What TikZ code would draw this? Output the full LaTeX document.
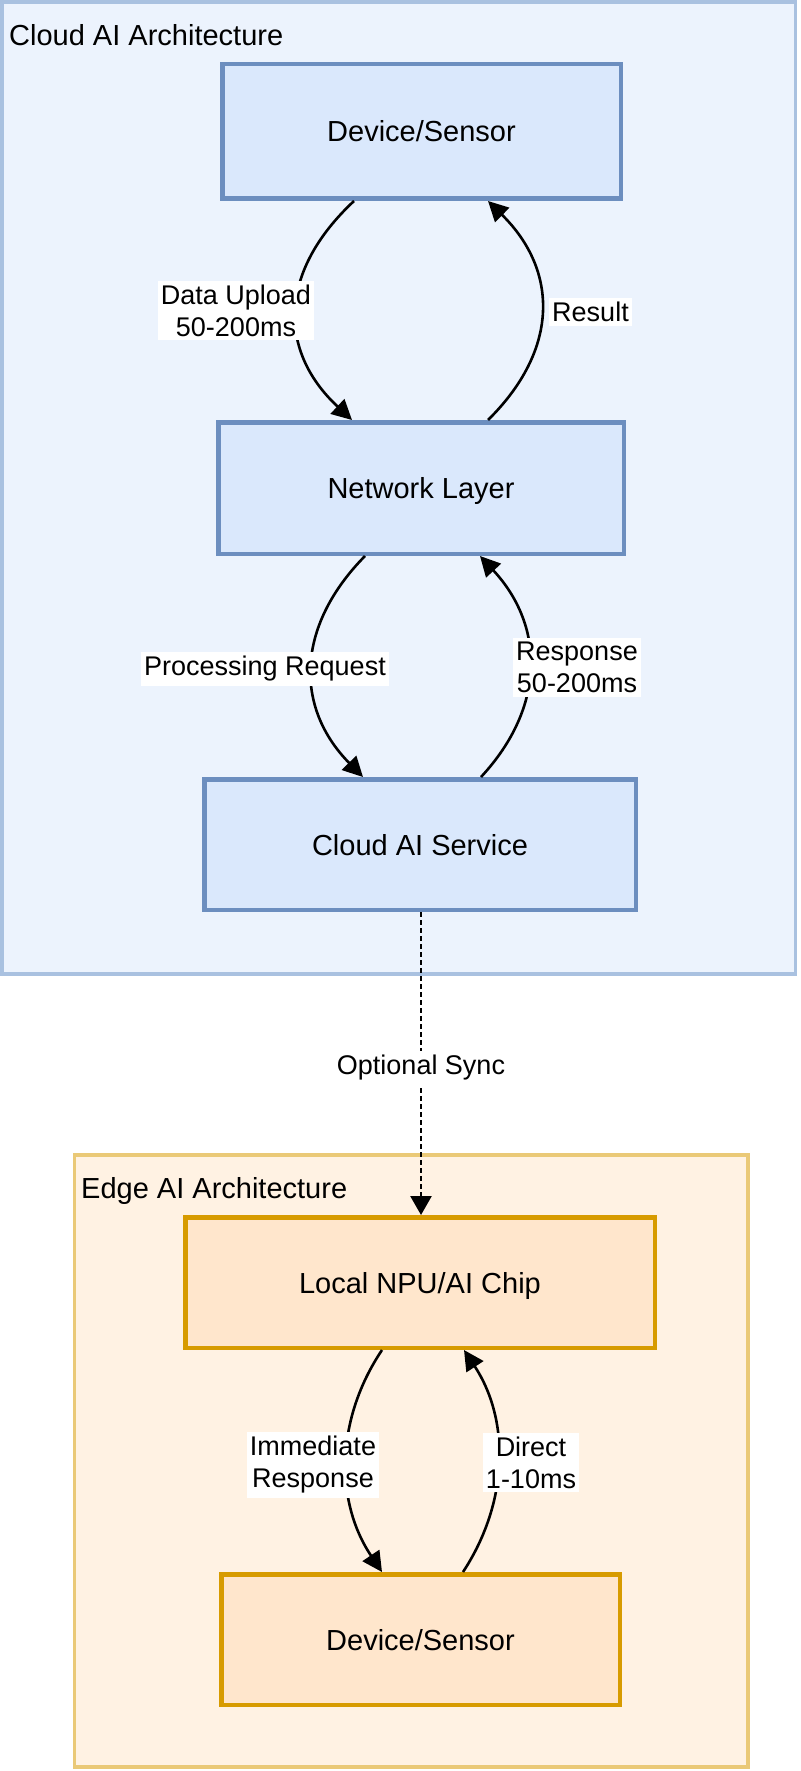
\documentclass[tikz,border=0pt]{standalone}
\usepackage{fontspec}
\setmainfont{Liberation Sans}
\usetikzlibrary{arrows.meta}
\definecolor{cloudbg}{HTML}{ECF3FD}
\definecolor{cloudbd}{HTML}{A9C1E0}
\definecolor{cloudfill}{HTML}{DAE8FC}
\definecolor{cloudline}{HTML}{6C8EBF}
\definecolor{edgebg}{HTML}{FFF2E3}
\definecolor{edgebd}{HTML}{EAC977}
\definecolor{edgefill}{HTML}{FFE6CC}
\definecolor{edgeline}{HTML}{D79B00}
\begin{document}
\begin{tikzpicture}[x=1pt,y=-1pt,
  container/.style={draw, line width=3.5pt, inner sep=0pt, minimum width=#1},
  cloudcont/.style={container=#1, draw=cloudbd, fill=cloudbg},
  edgecont/.style={container=#1, draw=edgebd, fill=edgebg},
  box/.style={draw, line width=4.5pt, inner sep=0pt, minimum width=#1,
    text height=21pt, text depth=0pt, font=\fontsize{29}{34}\selectfont},
  cloudbox/.style={box=#1, draw=cloudline, fill=cloudfill},
  edgebox/.style={box=#1, draw=edgeline, fill=edgefill},
  title/.style={anchor=base west, inner sep=0pt, font=\fontsize{29}{34}\selectfont},
  conn/.style={line width=2.6pt, -{Triangle[length=20pt,width=20pt]}},
  sync/.style={line width=2.6pt, dash pattern=on 4.5pt off 3.5pt, -{Triangle[length=19pt,width=21pt]}},
  lbl/.style={fill=white, align=center, inner xsep=3pt, inner ysep=4pt,
    font=\fontsize{27}{32}\selectfont},
]
\useasboundingbox (0,0) rectangle (800,1771);

% containers
\node[cloudcont=793.5pt, minimum height=972pt] (cloudarch) at (398.75,488) {};
\node[edgecont=673.5pt, minimum height=612pt] (edgearch) at (411.25,1461) {};
\node[title] (cloudtitle) at (9,46) {Cloud AI Architecture};
\node[title] (edgetitle) at (81,1198) {Edge AI Architecture};

% nodes
\node[cloudbox=398.5pt, minimum height=134.5pt] (dev1) at (421.5,131.5) {Device/Sensor};
\node[cloudbox=405.5pt, minimum height=131.5pt] (net) at (421,488) {Network Layer};
\node[cloudbox=431.5pt, minimum height=130.5pt] (svc) at (420,844.5) {Cloud AI Service};
\node[edgebox=469.5pt, minimum height=130.5pt] (npu) at (420,1282.5) {Local NPU/AI Chip};
\node[edgebox=398.5pt, minimum height=130.5pt] (dev2) at (420.5,1639.5) {Device/Sensor};

% connectors
\draw[conn] ([xshift=-67.5pt]dev1.south) .. controls +(-75,70) and +(-75,-70) .. ([xshift=-69pt]net.north);
\draw[conn] ([xshift=67pt]net.north) .. controls +(71,-70) and +(71,70) .. ([xshift=66.5pt]dev1.south);
\draw[conn] ([xshift=-56pt]net.south) .. controls +(-69,70) and +(-69,-70) .. ([xshift=-57pt]svc.north);
\draw[conn] ([xshift=61pt]svc.north) .. controls +(65,-70) and +(65,70) .. ([xshift=59pt]net.south);
\draw[conn] ([xshift=-38pt]npu.south) .. controls +(-47,70) and +(-47,-70) .. ([xshift=-38.5pt]dev2.north);
\draw[conn] ([xshift=42.5pt]dev2.north) .. controls +(46,-70) and +(46,70) .. ([xshift=44pt]npu.south);
\draw[sync] ([xshift=1pt]svc.south) -- ([xshift=1pt]npu.north);

% labels
\node[lbl] (l1) at (236,310.5) {Data Upload\\50-200ms};
\node[lbl] (l2) at (590.5,312) {Result};
\node[lbl] (l3) at (265,669) {Processing Request};
\node[lbl] (l4) at (577,667.5) {Response\\50-200ms};
\node[lbl] (l5) at (421,1068) {Optional Sync};
\node[lbl] (l6) at (313,1465) {Immediate\\Response};
\node[lbl] (l7) at (531,1462.5) {Direct\\1-10ms};
\end{tikzpicture}
\end{document}
